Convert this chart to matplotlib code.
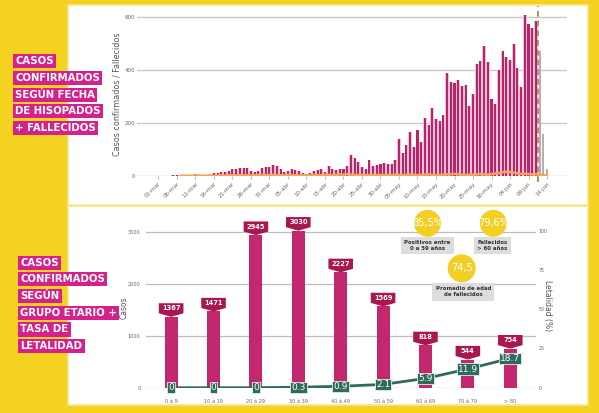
import matplotlib
matplotlib.use('Agg')
import matplotlib.pyplot as plt
from matplotlib.patches import Rectangle, Ellipse, Polygon

# ---- data: daily confirmed cases (01-mar .. 11-jun) ----
casos = [0, 0, 0, 0, 3, 2, 0, 0, 0, 0,
         5, 3, 3, 3, 4, 11, 11, 13, 14, 16,
         25, 25, 30, 28, 29, 19, 15, 16, 30, 31,
         34, 39, 38, 24, 15, 18, 25, 20, 18, 9,
         8, 9, 16, 20, 24, 13, 36, 24, 23, 24,
         25, 37, 77, 67, 53, 34, 24, 58, 35, 39,
         44, 47, 45, 43, 59, 139, 87, 115, 166, 107,
         173, 126, 220, 191, 256, 215, 208, 228, 389, 353,
         350, 361, 340, 344, 264, 309, 422, 433, 490, 429,
         290, 270, 399, 471, 450, 437, 497, 407, 334, 607,
         573, 558, 584]
# incomplete days (12-jun .. 14-jun)
casos_parciales = [471, 159, 26]
# daily deaths, from 07-mar
fallecidos = [0, 0, 0, 0, 0, 1, 0, 0, 1, 0, 1, 1, 0, 2, 1, 1, 2, 1, 2, 1, 2, 2, 3, 2,
              2, 3, 2, 1, 2, 3, 2, 1, 1, 2, 2, 1, 3, 2, 2, 4, 3, 2, 3, 5, 4, 6, 4, 3, 2, 3, 2, 2, 3, 2,
              3, 2, 3, 2, 4, 3, 2, 3, 4, 3, 2, 3, 4, 5, 3, 2, 3, 4, 5, 6, 7, 5, 4, 3, 3, 4, 5, 6, 5, 4,
              6, 8, 10, 13, 15, 14, 12, 9, 7, 8, 6, 5, 6, 4, 2, 1]
fechas = ['01-mar', '06-mar', '11-mar', '16-mar', '21-mar', '26-mar', '31-mar',
          '05-abr', '10-abr', '15-abr', '20-abr', '25-abr', '30-abr',
          '05-may', '10-may', '15-may', '20-may', '25-may', '30-may',
          '04-jun', '09-jun', '14-jun']

# ---- data: age groups ----
grupos = ['0 à 9', '10 à 19', '20 à 29', '30 à 39', '40 à 49',
          '50 à 59', '60 à 69', '70 à 79', '> 80']
casos_grupo = [1367, 1471, 2945, 3030, 2227, 1569, 818, 544, 754]
letalidad = [0, 0, 0, 0.3, 0.9, 2.1, 5.9, 11.9, 18.7]
letalidad_txt = ['0', '0', '0', '0.3', '0.9', '2.1', '5.9', '11.9', '18.7']

YELLOW = '#f4d21f'
MAGENTA = '#d5218c'
CRIMSON = '#b8246a'
TEAL = '#2e6b5a'
GRAY = '#666666'

W, H = 599, 413
def fx(x):
    return x / W
def fy(y):
    return 1 - y / H

fig = plt.figure(figsize=(5.99, 4.13), dpi=100)
fig.patch.set_facecolor(YELLOW)

# white panels
for top, bot in [(5, 205), (206, 405)]:
    fig.add_artist(Rectangle((fx(68), fy(bot)), fx(588) - fx(68), (bot - top) / H,
                             transform=fig.transFigure, fc='white', ec='#f7e88e',
                             lw=1.2, zorder=0))

# ================= top chart =================
ax1 = fig.add_axes([fx(137), fy(175.7), (567 - 137) / W, 169.3 / H])
ax1.set_facecolor('none')
dias = list(range(len(casos)))
dias_p = list(range(len(casos), len(casos) + len(casos_parciales)))
ax1.bar(dias, casos, width=1.0, color='#f5c0d8', zorder=2)
ax1.bar(dias, casos, width=0.55, color=CRIMSON, zorder=3)
ax1.bar(dias_p, casos_parciales, width=0.5, color='#b9abb2', zorder=3)
dias_f = list(range(6, 6 + len(fallecidos)))
ax1.plot(dias_f, fallecidos, color='#f3a65a', lw=1.8, zorder=4)
ax1.axvline(len(casos) - 0.5, ymin=-0.04, ymax=1.0, color='#b8935a', ls=(0, (3, 2)),
            lw=1.4, zorder=5, clip_on=False)
ax1.set_xlim(-5.8, 110.4)
ax1.set_ylim(0, 640)
ax1.set_yticks([0, 200, 400, 600])
ax1.yaxis.grid(True, color='#c8c8c8', lw=1)
ax1.set_axisbelow(True)
ax1.set_xticks(range(0, 5 * len(fechas), 5))
ax1.set_xticklabels(fechas, rotation=45, ha='right', rotation_mode='anchor')
ax1.tick_params(axis='x', length=2, color='#bbbbbb', labelsize=4, labelcolor=GRAY, pad=2)
ax1.tick_params(axis='y', length=0, labelsize=4, labelcolor=GRAY, pad=1)
for s in ax1.spines.values():
    s.set_visible(False)
ax1.set_ylabel('Casos confirmados / Fallecidos', fontsize=5.8, color='#555555')
ax1.yaxis.set_label_coords(-0.036, 0.48)

# ================= bottom chart =================
ax2 = fig.add_axes([fx(145.7), fy(387.7), 390 / W, 171 / H])
ax2.set_facecolor('none')
ax2.bar(range(len(grupos)), casos_grupo, width=0.31, color='#c3276e', zorder=2)
ax2.set_xlim(-0.6, 8.6)
ax2.set_ylim(0, 3300)
ax2.set_yticks([0, 1000, 2000, 3000])
ax2.yaxis.grid(True, color='#bdbdbd', lw=0.9)
ax2.set_axisbelow(True)
ax2.set_xticks(range(len(grupos)))
ax2.set_xticklabels(grupos)
ax2.tick_params(axis='both', length=0, labelsize=3.6, labelcolor=GRAY)
ax2.tick_params(axis='x', pad=8)
ax2.set_ylabel('Casos', fontsize=5.5, color='#555555')
ax2.yaxis.set_label_coords(-0.045, 0.47)
for s in ax2.spines.values():
    s.set_visible(False)

# callout labels above bars
hw, pt, rh = 0.29, 68, 195
for i, v in enumerate(casos_grupo):
    verts = [(i - hw, v + pt), (i, v), (i + hw, v + pt),
             (i + hw, v + pt + rh), (i - hw, v + pt + rh)]
    ax2.add_patch(Polygon(verts, closed=True, fc='#a8174f', ec='none',
                          zorder=4, clip_on=False))
    ax2.text(i, v + pt + rh / 2, str(v), ha='center', va='center', fontsize=4.8,
             fontweight='bold', color='white', zorder=5, clip_on=False)

ax3 = ax2.twinx()
ax3.set_ylim(0, 108.9)
ax3.set_yticks([0, 25, 50, 75, 100])
ax3.tick_params(axis='y', length=0, labelsize=3.4, labelcolor=GRAY, pad=2)
for s in ax3.spines.values():
    s.set_visible(False)
ax3.plot(range(len(letalidad)), letalidad, color=TEAL, lw=2, zorder=3)
for i, (v, t) in enumerate(zip(letalidad, letalidad_txt)):
    ax3.text(i, v, t, ha='center', va='center', fontsize=6.5, color='white', zorder=6,
             bbox=dict(boxstyle='square,pad=0.12', fc=TEAL, ec='#e3ece8', lw=0.6))
ax3.set_ylabel('Letalidad (%)', fontsize=5.5, color='#555555', rotation=270)
ax3.yaxis.set_label_coords(1.042, 0.478)

# summary circles and notes
for (cx, cy, r, txt) in [(427.5, 223.3, 13.5, '85,5%'), (493.3, 223.3, 13.5, '79,6%'),
                         (461.7, 268.3, 14, '74,5')]:
    fig.add_artist(Ellipse((fx(cx), fy(cy)), 2 * r / W, 2 * r / H,
                           transform=fig.transFigure, fc='#f2cf25', ec='none', zorder=6))
    fig.text(fx(cx), fy(cy), txt, ha='center', va='center', fontsize=7,
             color='white', zorder=7)
for (cx, cy, txt) in [(427.5, 245.5, 'Positivos entre\n0 a 59 años'),
                      (492.5, 245.5, 'Fallecidos\n> 60 años'),
                      (463.3, 291.7, 'Promedio de edad\nde fallecidos')]:
    fig.text(fx(cx), fy(cy), txt, ha='center', va='center', fontsize=3.9,
             fontweight='bold', color='#333333', linespacing=1.3, zorder=7,
             bbox=dict(boxstyle='square,pad=0.6', fc='#dddddd', ec='none'))

# section titles
def titulo(lineas, x, y0):
    for k, t in enumerate(lineas):
        fig.text(fx(x), fy(y0 + 16.7 * k), t, ha='left', va='center', fontsize=7.3,
                 fontweight='bold', color='white', zorder=8,
                 bbox=dict(boxstyle='square,pad=0.2', fc=MAGENTA, ec='none'))

titulo(['CASOS', 'CONFIRMADOS', 'SEGÚN FECHA', 'DE HISOPADOS', '+ FALLECIDOS'], 15, 61.2)
titulo(['CASOS', 'CONFIRMADOS', 'SEGÚN', 'GRUPO ETARIO +', 'TASA DE', 'LETALIDAD'], 20.5, 262.7)

fig.savefig('out.png', dpi=100, facecolor=fig.get_facecolor())
